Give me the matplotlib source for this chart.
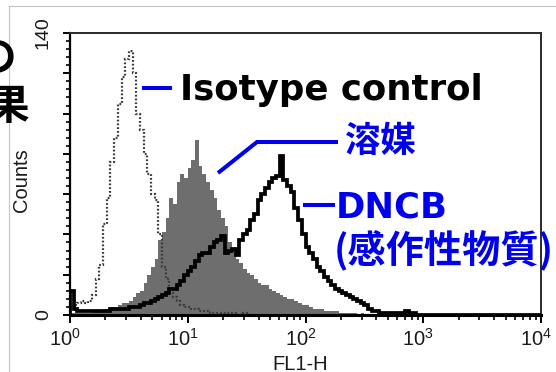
import matplotlib
matplotlib.use('Agg')
import matplotlib.pyplot as plt
import matplotlib.transforms as mtransforms
import numpy as np
from matplotlib.lines import Line2D
from matplotlib.ticker import MultipleLocator, LogLocator, FuncFormatter, NullFormatter

plt.rcParams['font.family'] = ['Liberation Sans', 'DejaVu Sans']

# ---- data: histogram counts per channel (128 log channels over 10^0..10^4) ----
isotype = [
    4, 5, 6, 7, 6, 7, 10, 18, 25, 45,
    58, 76, 88, 105, 118, 127, 131, 120, 100, 92,
    80, 70, 60, 57, 40, 24, 18, 13, 9, 7,
    5, 4, 4, 3, 3, 2, 2, 2, 1, 1,
    1, 1, 1, 0, 1, 0, 0, 1, 0, 0,
    0, 0, 0, 0, 0, 0, 0, 0, 0, 0,
    0, 0, 0, 0, 0, 0, 0, 0, 0, 0,
    0, 0, 0, 0, 0, 0, 0, 0, 0, 0,
    0, 0, 0, 0, 0, 0, 0, 0, 0, 0,
    0, 0, 0, 0, 0, 0, 0, 0, 0, 0,
    0, 0, 0, 0, 0, 0, 0, 0, 0, 0,
    0, 0, 0, 0, 0, 0, 0, 0, 0, 0,
    0, 0, 0, 0, 0, 0, 0, 0,
]
vehicle = [
    1, 1, 1, 1, 1, 1, 2, 2, 2, 3,
    3, 4, 4, 5, 6, 6, 7, 9, 11, 12,
    16, 20, 24, 28, 37, 41, 48, 58, 55, 66,
    70, 68, 73, 77, 87, 74, 70, 66, 62, 58,
    52, 48, 44, 36, 31, 28, 26, 23, 21, 20,
    18, 16, 15, 15, 13, 12, 11, 10, 9, 8,
    8, 7, 6, 5, 5, 4, 3, 3, 3, 2,
    2, 2, 2, 1, 1, 1, 1, 1, 0, 1,
    0, 0, 0, 0, 0, 0, 0, 0, 0, 0,
    0, 0, 0, 0, 0, 0, 0, 0, 0, 0,
    0, 0, 0, 0, 0, 0, 0, 0, 0, 0,
    0, 0, 0, 0, 0, 0, 0, 0, 0, 0,
    0, 0, 0, 0, 0, 0, 0, 0,
]
dncb = [
    12, 3, 2, 2, 2, 2, 2, 2, 2, 2,
    2, 3, 3, 3, 3, 3, 4, 4, 4, 5,
    6, 6, 7, 8, 9, 10, 11, 13, 13, 15,
    17, 20, 22, 24, 27, 30, 31, 31, 34, 36,
    37, 39, 31, 32, 33, 30, 37, 40, 42, 47,
    50, 57, 60, 63, 66, 68, 69, 79, 67, 64,
    61, 53, 47, 40, 34, 31, 28, 24, 22, 19,
    17, 15, 13, 12, 11, 10, 9, 8, 7, 6,
    5, 3, 2, 2, 1, 1, 1, 1, 1, 1,
    1, 2, 1, 1, 0, 0, 0, 0, 0, 0,
    0, 0, 0, 0, 0, 0, 0, 0, 0, 0,
    0, 0, 0, 0, 0, 0, 0, 0, 0, 0,
    0, 0, 0, 0, 0, 0, 0, 0,
]
channels_per_decade = 32
x_limits = [1, 10000]
y_limits = [0, 140]
y_labeled_ticks = [0, 140]
x_label = 'FL1-H'
y_label = 'Counts'
label_isotype = 'Isotype control'
label_vehicle = '溶媒'
label_dncb_1 = 'DNCB'
label_dncb_2 = '(感作性物質)'
cut_text_1 = 'の'
cut_text_2 = '果'

# ---- figure ----
W, H = 556, 372
fig = plt.figure(figsize=(W / 100, H / 100), dpi=100)


def fx(px):
    return px / W


def fy(py):
    return 1 - py / H


ax = fig.add_axes([fx(70), fy(315), fx(541) - fx(70), fy(33) - fy(315)])

edges = 10 ** (np.arange(len(vehicle) + 1) / channels_per_decade)

ax.stairs(vehicle, edges, fill=True, color='#6e6e6e', lw=0, zorder=1)
ax.stairs(isotype, edges, color='#3a3a3a', lw=1.6, linestyle=(0, (0.8, 0.9)), zorder=2)
ax.stairs(dncb, edges, color='black', lw=2.7, zorder=3)

ax.set_xscale('log')
ax.set_xlim(*x_limits)
ax.set_ylim(*y_limits)

ax.xaxis.set_major_locator(LogLocator(base=10, numticks=10))
ax.xaxis.set_minor_locator(LogLocator(base=10, subs=np.arange(2, 10), numticks=100))
ax.xaxis.set_minor_formatter(NullFormatter())
ax.yaxis.set_major_locator(MultipleLocator(20))
ax.yaxis.set_minor_locator(MultipleLocator(4))
ax.yaxis.set_major_formatter(
    FuncFormatter(lambda v, p: f'{int(round(v))}' if int(round(v)) in y_labeled_ticks else ''))

ax.tick_params(axis='x', which='major', direction='out', length=6, width=1.4,
               labelsize=14.5, pad=3, colors='black', labelcolor='#1a1a1a')
ax.tick_params(axis='x', which='minor', direction='out', length=3.6, width=1.2, colors='black')
ax.tick_params(axis='y', which='major', direction='out', length=5, width=1.4,
               labelsize=14, pad=8, colors='black', labelcolor='#1a1a1a')
ax.tick_params(axis='y', which='minor', direction='out', length=3, width=1.2, colors='black')
for lab in ax.get_yticklabels():
    lab.set_rotation(90)
    lab.set_va('center')

# x tick labels sit slightly left of their ticks in the source
shift = mtransforms.ScaledTranslation(-5 / 100, 0, fig.dpi_scale_trans)
for lab in ax.get_xticklabels():
    lab.set_transform(lab.get_transform() + shift)

ax.spines['left'].set_linewidth(1.6)
ax.spines['left'].set_color('black')
ax.spines['bottom'].set_linewidth(2.2)
ax.spines['bottom'].set_color('black')
for s in ['top', 'right']:
    ax.spines[s].set_linewidth(1.4)
    ax.spines[s].set_color('#2a2a2a')

fig.text(fx(21), fy(180), y_label, rotation=90, ha='center', va='center',
         fontsize=14.5, color='#1a1a1a')
fig.text(fx(300), fy(364), x_label, ha='center', va='center', fontsize=14.5, color='#1a1a1a')

# light gray frame of the cropped slide
fig.add_artist(Line2D([fx(9), fx(9)], [0, fy(6)], color='#c4c4c4', lw=0.8))
fig.add_artist(Line2D([fx(9), 1], [fy(6), fy(6)], color='#c4c4c4', lw=0.8))

# cropped slide text on the left (cut off by the image edge, as in the source)
cjk = ['Noto Sans CJK JP', 'DejaVu Sans']
fig.text(fx(16), fy(59), cut_text_1, ha='right', va='center', fontsize=30,
         family=cjk, weight='bold', color='black')
fig.text(fx(29), fy(107), cut_text_2, ha='right', va='center', fontsize=30,
         family=cjk, weight='bold', color='black')

# annotations
blue = '#0000ee'
fig.text(fx(180), fy(100), label_isotype, ha='left', va='baseline', fontsize=25.6,
         family=['DejaVu Sans'], weight='bold', color='black')
fig.text(fx(345), fy(141), label_vehicle, ha='left', va='center', fontsize=25.5,
         family=cjk, weight='bold', color=blue)
fig.text(fx(336), fy(218), label_dncb_1, ha='left', va='baseline', fontsize=25.5,
         family=['DejaVu Sans'], weight='bold', color=blue)
fig.text(fx(334), fy(251), label_dncb_2, ha='left', va='center', fontsize=27.5,
         family=cjk, weight='bold', color=blue)

lw_lead = 2.9
fig.add_artist(Line2D([fx(142), fx(172)], [fy(88), fy(88)], color=blue, lw=lw_lead,
                      solid_capstyle='butt'))
fig.add_artist(Line2D([fx(218), fx(257), fx(338)], [fy(173), fy(142), fy(142)], color=blue,
                      lw=lw_lead, solid_capstyle='butt', solid_joinstyle='miter'))
fig.add_artist(Line2D([fx(303), fx(335)], [fy(205), fy(205)], color=blue, lw=lw_lead,
                      solid_capstyle='butt'))

fig.savefig('out.png', dpi=100, facecolor='white')
